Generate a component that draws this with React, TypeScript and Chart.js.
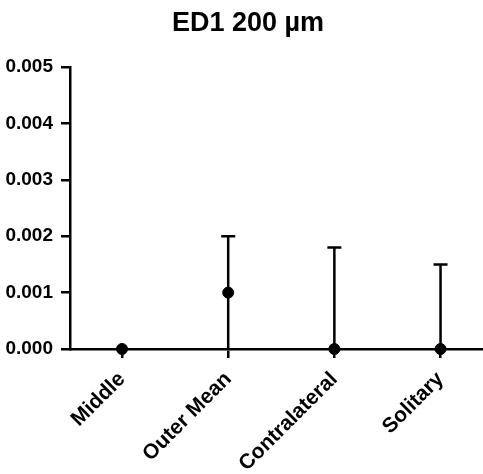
import React, { useEffect, useRef } from "react";
import { Chart, registerables } from "chart.js";

Chart.register(...registerables);

const titleText = "ED1 200 µm";
const categories = ["Middle", "Outer Mean", "Contralateral", "Solitary"];
const means = [0, 0.001, 0, 0];
const errors = [0, 0.001, 0.0018, 0.0015];
const yTicks = [0, 0.001, 0.002, 0.003, 0.004, 0.005];

const FONT = "'Liberation Sans', Arial, Helvetica, sans-serif";

const errorBarPlugin = {
  id: "errorBars",
  beforeDatasetsDraw(chart: any) {
    const xs = chart.scales.x;
    const ys = chart.scales.y;
    const ctx = chart.ctx;
    const area = chart.chartArea;
    ctx.save();
    ctx.beginPath();
    ctx.rect(area.left - 20, area.top - 20, area.right - area.left + 40, area.bottom - area.top + 20);
    ctx.clip();
    ctx.strokeStyle = "#000";
    ctx.lineWidth = 2.5;
    means.forEach((m, i) => {
      const e = errors[i];
      if (!e) return;
      const x = xs.getPixelForValue(i);
      const yLo = ys.getPixelForValue(m - e);
      const yHi = ys.getPixelForValue(m + e);
      ctx.beginPath();
      ctx.moveTo(x, yLo);
      ctx.lineTo(x, yHi);
      ctx.moveTo(x - 7, yHi);
      ctx.lineTo(x + 7, yHi);
      ctx.stroke();
    });
    ctx.restore();
  },
};

const titlePlugin = {
  id: "customTitle",
  afterDraw(chart: any) {
    const ctx = chart.ctx;
    ctx.save();
    ctx.fillStyle = "#000";
    ctx.font = `bold 27px ${FONT}`;
    ctx.textAlign = "center";
    ctx.textBaseline = "middle";
    ctx.fillText(titleText, 248, 24);
    ctx.restore();
  },
};

export default function App() {
  const ref = useRef<HTMLCanvasElement | null>(null);
  useEffect(() => {
    if (!ref.current) return;
    const chart = new Chart(ref.current, {
      type: "scatter",
      data: {
        datasets: [
          {
            data: means.map((m, i) => ({ x: i, y: m })),
            backgroundColor: "#000",
            borderColor: "#000",
            pointRadius: 5.5,
            pointHoverRadius: 5.5,
            clip: false as any,
          },
        ],
      },
      options: {
        animation: false,
        responsive: true,
        maintainAspectRatio: false,
        layout: { autoPadding: false, padding: { top: 67, right: 0, left: 0, bottom: 0 } },
        plugins: {
          legend: { display: false },
          title: { display: false },
          tooltip: { enabled: false },
        },
        scales: {
          x: {
            type: "linear",
            min: -0.49,
            max: 3.4,
            afterFit: (s: any) => {
              s.height = 125;
              s.paddingRight = 0;
              s.paddingLeft = 0;
            },
            afterBuildTicks: (s: any) => {
              s.ticks = categories.map((_, i) => ({ value: i }));
            },
            ticks: {
              includeBounds: false,
              stepSize: 1,
              autoSkip: false,
              minRotation: 45,
              maxRotation: 45,
              padding: 9,
              color: "#000",
              font: { family: FONT, size: 21, weight: "bold" },
              callback: (v: any) => categories[Number(v)] ?? "",
            },
            grid: {
              display: true,
              drawOnChartArea: false,
              drawTicks: true,
              tickLength: 9,
              color: "#000",
              lineWidth: 2.5,
            },
            border: { display: true, color: "#000", width: 2.5 },
          },
          y: {
            min: 0,
            max: 0.005,
            afterFit: (s: any) => {
              s.width = 70;
            },
            afterBuildTicks: (s: any) => {
              s.ticks = yTicks.map((v) => ({ value: v }));
            },
            ticks: {
              padding: 8,
              color: "#000",
              font: { family: FONT, size: 19, weight: "bold" },
              callback: (v: any) => Number(v).toFixed(3),
            },
            grid: {
              display: true,
              drawOnChartArea: false,
              drawTicks: true,
              tickLength: 9,
              color: "#000",
              lineWidth: 2.5,
            },
            border: { display: true, color: "#000", width: 2.5 },
          },
        },
      },
      plugins: [errorBarPlugin, titlePlugin],
    });
    return () => chart.destroy();
  }, []);
  return (
    <div style={{ position: "fixed", left: 0, top: 0, width: 483, height: 474, background: "#fff" }}>
      <canvas ref={ref} />
    </div>
  );
}
